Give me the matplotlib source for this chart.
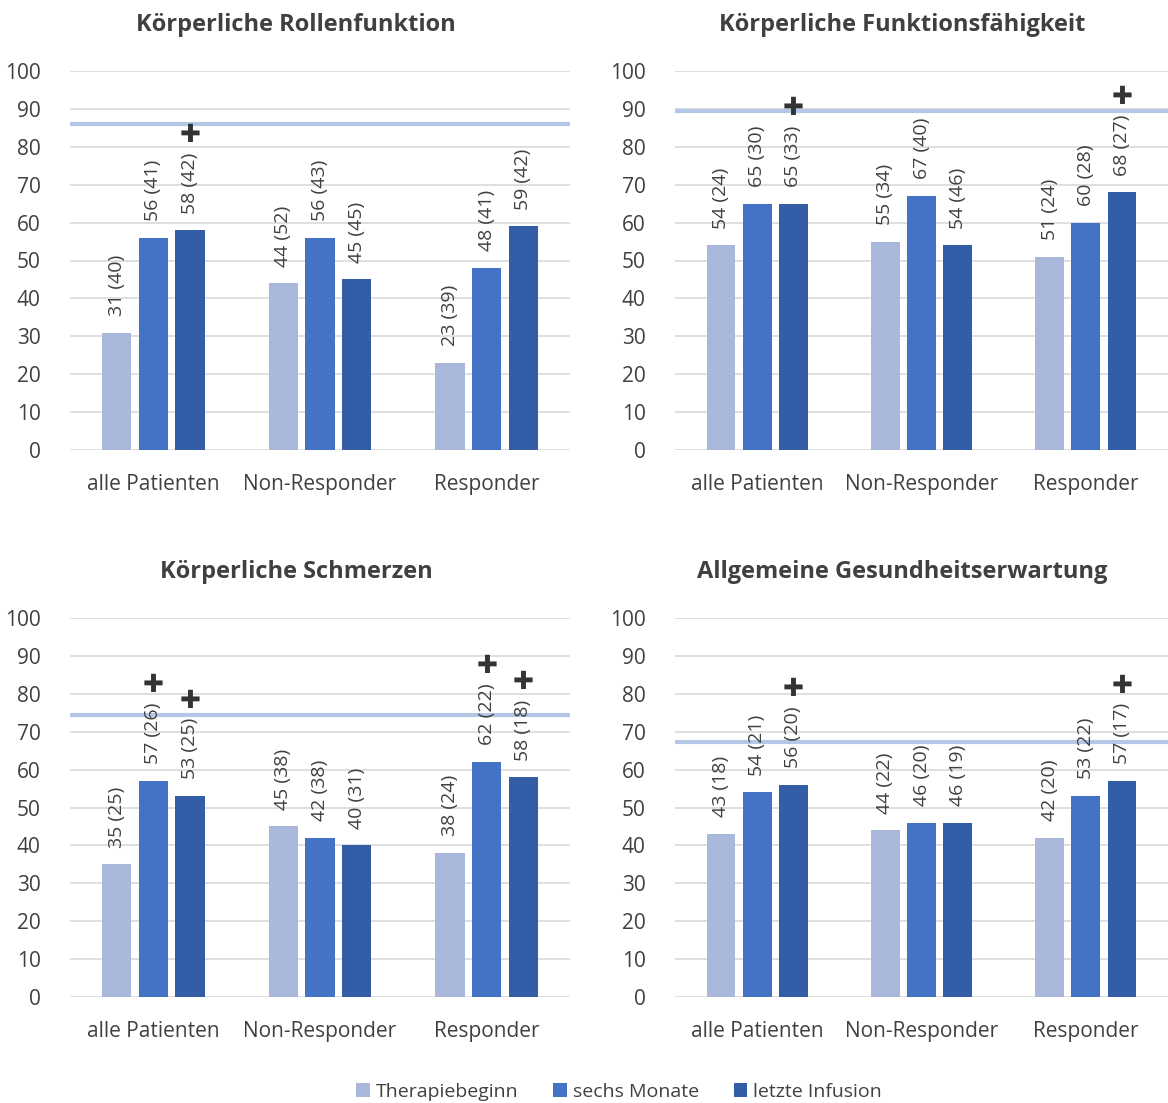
import matplotlib
matplotlib.use('Agg')
import matplotlib.pyplot as plt
import numpy as np

plt.rcParams['font.family'] = ['Open Sans', 'DejaVu Sans']

groups = ['alle Patienten', 'Non-Responder', 'Responder']
series = ['Therapiebeginn', 'sechs Monate', 'letzte Infusion']
colors = ['#A9B7DB', '#4472C4', '#345DA7']

titles = ['Körperliche Rollenfunktion', 'Körperliche Funktionsfähigkeit',
          'Körperliche Schmerzen', 'Allgemeine Gesundheitserwartung']

# mean values per panel: [Therapiebeginn, sechs Monate, letzte Infusion] x groups
rollen_mean = [[31, 44, 23], [56, 56, 48], [58, 45, 59]]
rollen_sd = [[40, 52, 39], [41, 43, 41], [42, 45, 42]]
funktion_mean = [[54, 55, 51], [65, 67, 60], [65, 54, 68]]
funktion_sd = [[24, 34, 24], [30, 40, 28], [33, 46, 27]]
schmerz_mean = [[35, 45, 38], [57, 42, 62], [53, 40, 58]]
schmerz_sd = [[25, 38, 24], [26, 38, 22], [25, 31, 18]]
gesund_mean = [[43, 44, 42], [54, 46, 53], [56, 46, 57]]
gesund_sd = [[18, 22, 20], [21, 20, 22], [20, 19, 17]]

# reference lines (norm values)
ref_values = [86, 89.5, 74.5, 67.3]

# significance markers: (series index, group index)
rollen_sig = [(2, 0)]
funktion_sig = [(2, 0), (2, 2)]
schmerz_sig = [(1, 0), (2, 0), (1, 2), (2, 2)]
gesund_sig = [(2, 0), (2, 2)]

means = [rollen_mean, funktion_mean, schmerz_mean, gesund_mean]
sds = [rollen_sd, funktion_sd, schmerz_sd, gesund_sd]
sigs = [rollen_sig, funktion_sig, schmerz_sig, gesund_sig]

W, H = 1168, 1103
fig = plt.figure(figsize=(W / 100, H / 100), dpi=100)

# axes boxes in pixels: left, bottom (0-line y), right, title centre x
boxes = [(70, 450, 570, 296), (675, 450, 1168, 902),
         (70, 997, 570, 296), (675, 997, 1168, 902)]
plot_h = 379

text_col = '#404040'
x = np.arange(len(groups))
width = 0.175
step = 0.22

for i, (l, b, r, tx) in enumerate(boxes):
    ax = fig.add_axes([l / W, 1 - b / H, (r - l) / W, plot_h / H])
    for s in range(3):
        bars = ax.bar(x + (s - 1) * step, means[i][s], width, color=colors[s],
                      label=series[s], zorder=3)
        for g, rect in enumerate(bars):
            lab = ax.annotate(f'{means[i][s][g]} ({sds[i][s][g]})',
                              xy=(rect.get_x() + rect.get_width() / 2, rect.get_height()),
                              xytext=(0, 12), textcoords='offset points',
                              rotation=90, ha='center', va='bottom',
                              fontsize=14, color=text_col, zorder=5)
            if (s, g) in sigs[i]:
                ax.annotate('✚', xy=(0.5, 1), xycoords=lab,
                            xytext=(0, 4), textcoords='offset points',
                            ha='center', va='bottom', fontsize=18,
                            color='#333333', family='DejaVu Sans', zorder=5)
    ax.axhline(ref_values[i], color='#B4C7E7', linewidth=3, zorder=2)
    ax.set_ylim(0, 100)
    ax.set_xlim(-0.5, 2.5)
    ax.set_yticks(range(0, 101, 10))
    ax.set_xticks(x)
    ax.set_xticklabels(groups)
    ax.grid(axis='y', color='#D9D9D9', linewidth=1.2, zorder=0)
    ax.set_axisbelow(True)
    for sp in ax.spines.values():
        sp.set_visible(False)
    ax.tick_params(axis='both', length=0, labelsize=15, labelcolor=text_col)
    ax.tick_params(axis='y', pad=21)
    ax.tick_params(axis='x', pad=17)
    fig.text(tx / W, 1 - (b - plot_h - 46) / H, titles[i],
             ha='center', va='center', fontsize=17, fontweight='bold',
             color=text_col)

handles, labels = ax.get_legend_handles_labels()
fig.legend(handles, labels, loc='center', bbox_to_anchor=(619 / W, 1 - 1092 / H),
           ncol=3, frameon=False, fontsize=14, handlelength=0.7, handleheight=0.7,
           handletextpad=0.3, columnspacing=1.8, labelcolor=text_col)

fig.savefig('out.png', dpi=100)
